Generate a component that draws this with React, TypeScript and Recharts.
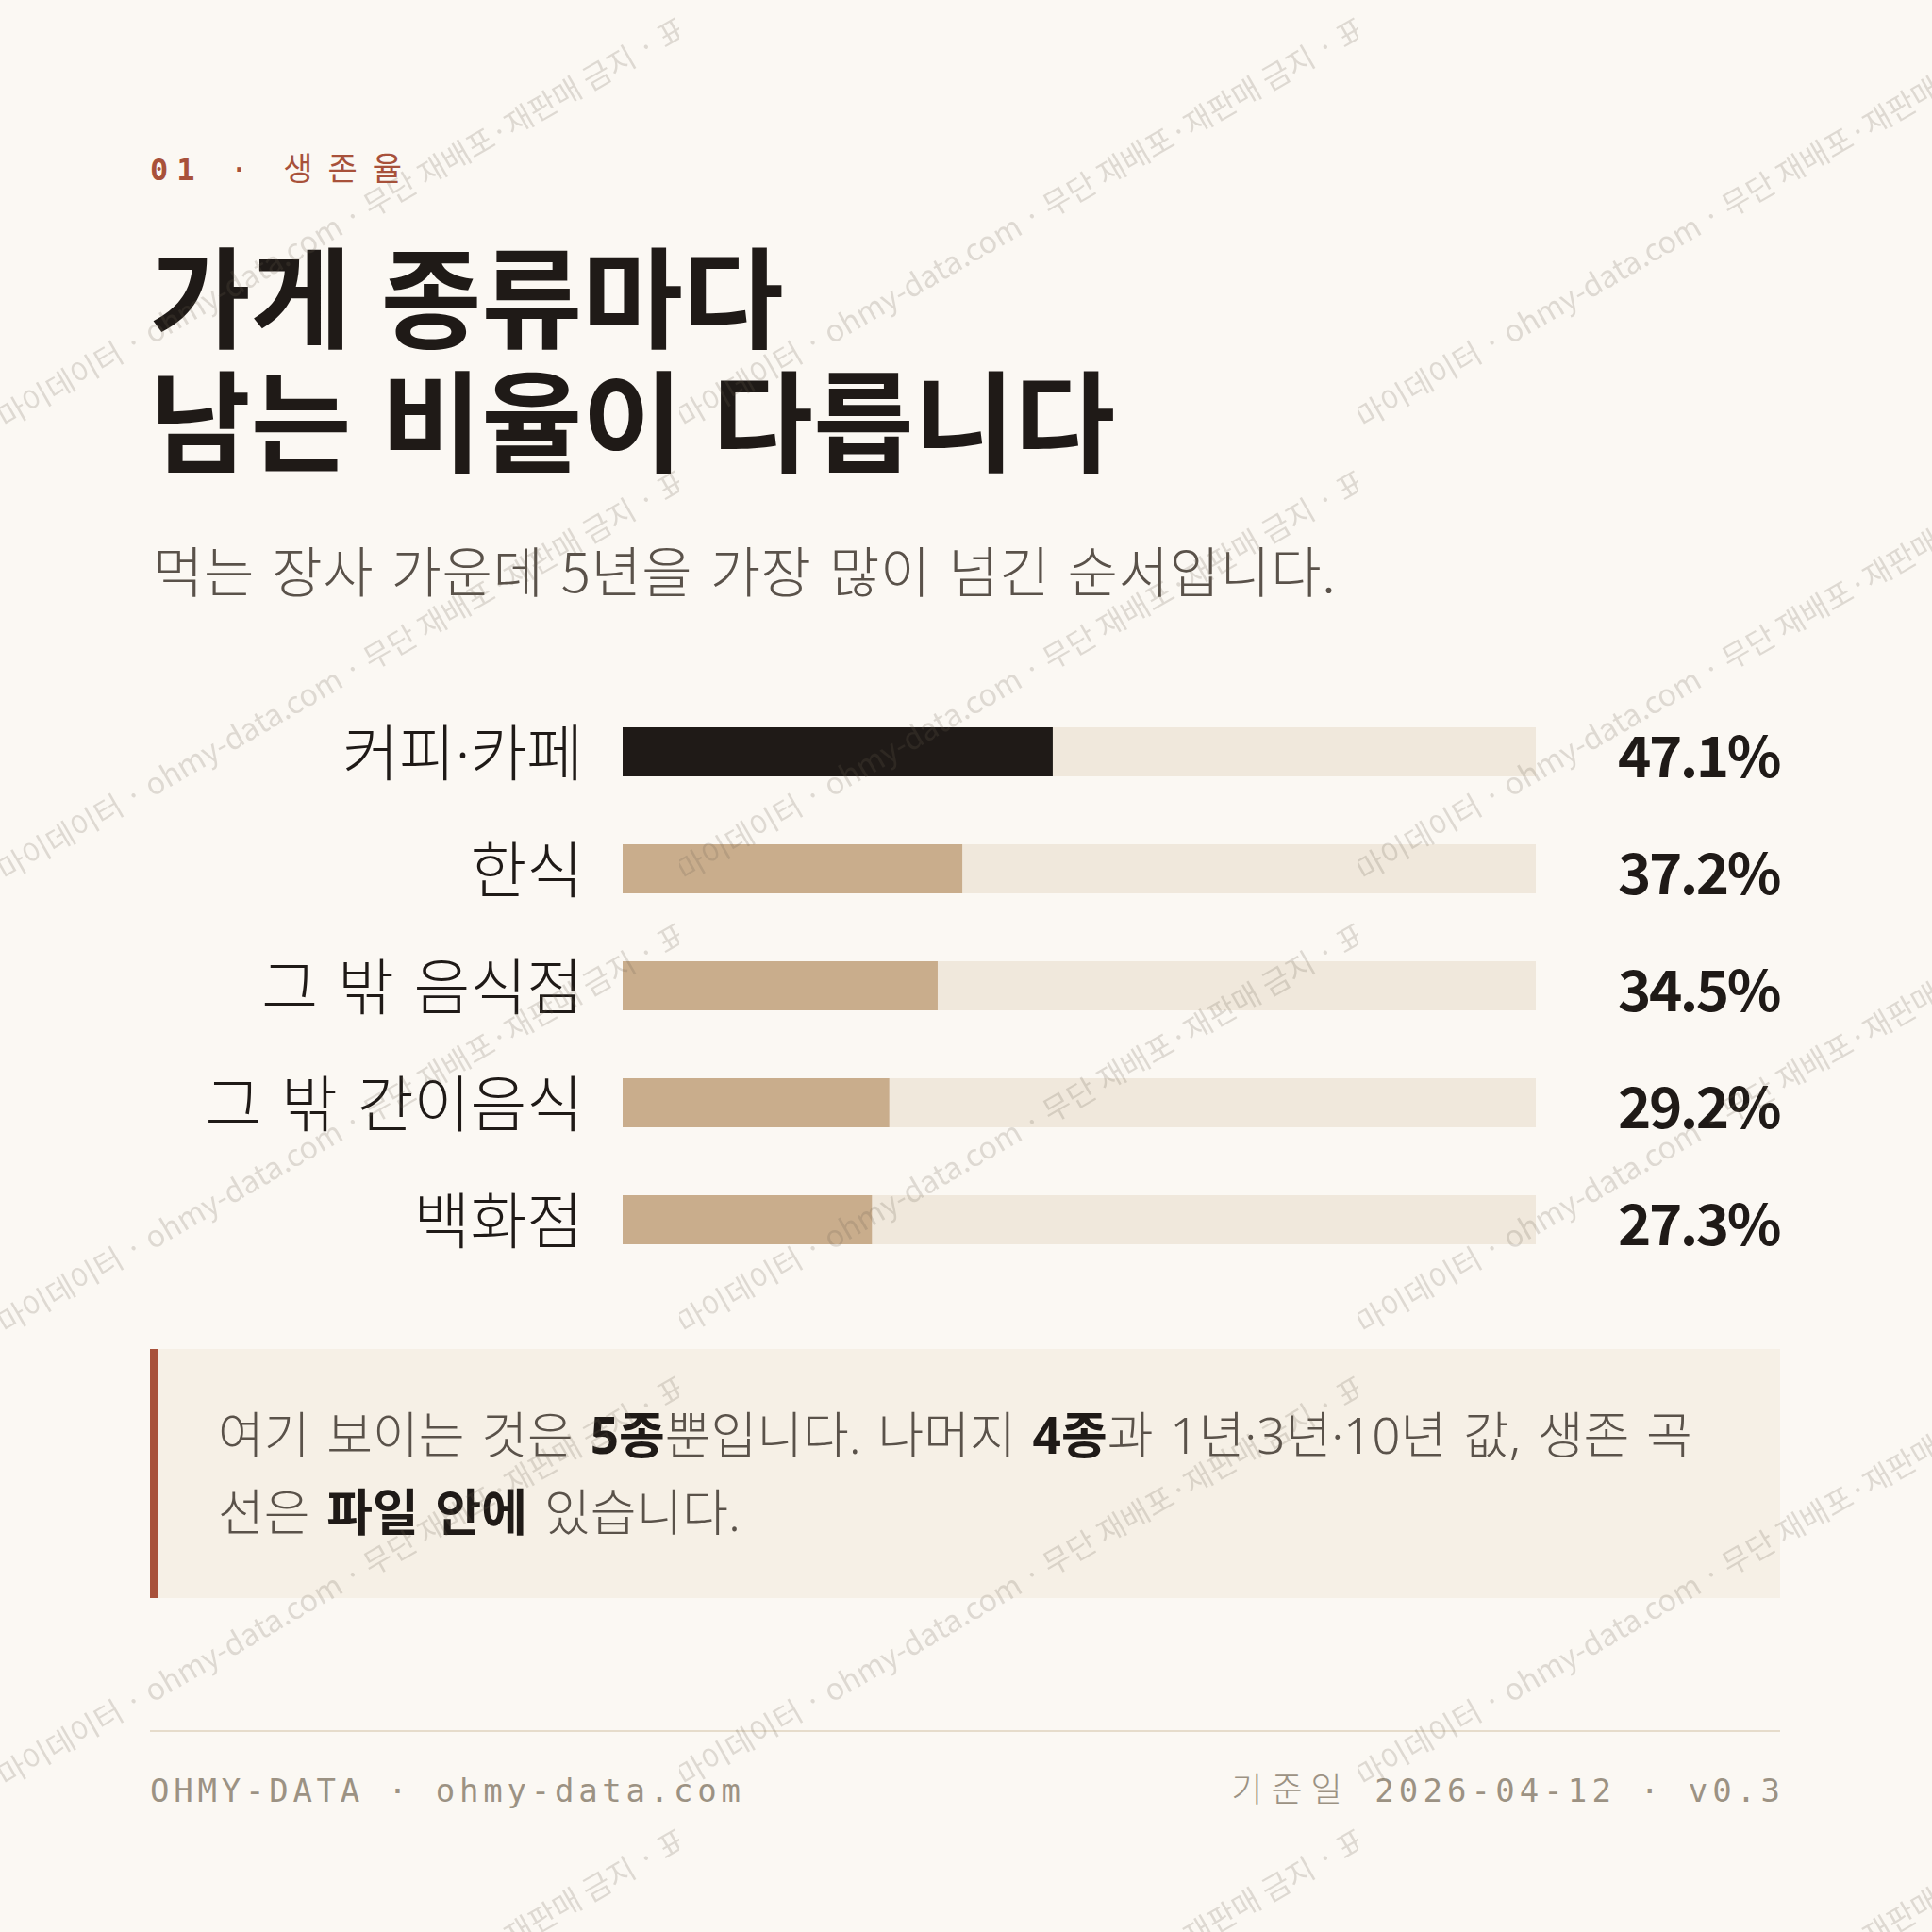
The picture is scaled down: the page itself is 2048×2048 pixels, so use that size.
import { BarChart, Bar, XAxis, YAxis, Cell, LabelList } from 'recharts';

// 5-year survival rate by store type (food business)
const categories = ['커피·카페', '한식', '그 밖 음식점', '그 밖 간이음식', '백화점'];
const survival5y = [47.1, 37.2, 34.5, 29.2, 27.3];
const valueLabels = ['47.1%', '37.2%', '34.5%', '29.2%', '27.3%'];
const highlighted = [true, false, false, false, false];

const X_MAX = 100;

const BG = '#fbf8f3';
const INK = '#1f1a17';
const MUTED = '#5a524a';
const RUST = '#a8513a';
const TAN = '#c9ad8c';
const TRACK = '#f0e8dc';
const FOOT = '#9c9283';

const KR = "'Noto Sans CJK KR', 'Noto Sans', sans-serif";
const KR_LATIN = "'Noto Sans', 'Noto Sans CJK KR', sans-serif";
const MONO = "'DejaVu Sans Mono', 'Noto Sans CJK KR', monospace";

const data = categories.map((name, i) => ({ name, value: survival5y[i] }));

const CHART_W = 1728;
const CHART_H = 620;
const LEFT_AXIS_W = 501;
const RIGHT_GAP = 259;

function CategoryTick(props: any) {
  const { x, y, payload } = props;
  return (
    <text x={x} y={y} textAnchor="end" dominantBaseline="central" fill={INK}
      style={{ fontFamily: KR_LATIN, fontSize: 65, fontWeight: 300, wordSpacing: 4 }}>
      {payload.value}
    </text>
  );
}

function renderValue(props: any) {
  const { x, y, width, height, index } = props;
  // pixel length of the full track, taken from the bar's own scale
  const full = (Number(width) * X_MAX) / survival5y[index];
  return (
    <text x={Number(x) + full + RIGHT_GAP - 1} y={Number(y) + Number(height) / 2}
      textAnchor="end" dominantBaseline="central" fill={INK}
      style={{ fontFamily: KR, fontSize: 60, fontWeight: 700, letterSpacing: -2.5 }}>
      {valueLabels[index]}
    </text>
  );
}

function Watermark() {
  return (
    <svg width={2048} height={2048} style={{ position: 'absolute', left: 0, top: 0, pointerEvents: 'none' }}>
      <defs>
        <pattern id="wm" patternUnits="userSpaceOnUse" width={720} height={480}>
          <text x={6} y={455} transform="rotate(-30 6 455)" fill="#6b5d50" fillOpacity={0.2}
            style={{ fontFamily: KR, fontSize: 32 }}>
            마이데이터 · ohmy-data.com · 무단 재배포·재판매 금지 · 표본 데이터
          </text>
        </pattern>
      </defs>
      <rect x={0} y={0} width={2048} height={2048} fill="url(#wm)" />
    </svg>
  );
}

export default function App() {
  return (
    <div style={{ position: 'absolute', left: 0, top: 0, width: 2048, height: 2048, background: BG, overflow: 'hidden', fontFamily: KR }}>
      {/* kicker */}
      <div style={{ position: 'absolute', left: 159, top: 161, fontFamily: MONO, fontSize: 32, lineHeight: '36px', letterSpacing: '0.28em', color: RUST, whiteSpace: 'nowrap' }}>
        <span style={{ fontWeight: 700 }}>01</span> · <span style={{ fontSize: 34, letterSpacing: 16 }}>생존율</span>
      </div>

      {/* title */}
      <div style={{ position: 'absolute', left: 159, top: 244, fontSize: 116, lineHeight: '131px', fontWeight: 700, color: INK, wordSpacing: 5, whiteSpace: 'nowrap' }}>
        가게 종류마다<br />남는 비율이 다릅니다
      </div>

      {/* subtitle */}
      <div style={{ position: 'absolute', left: 162, top: 567, fontSize: 58, lineHeight: '72px', fontWeight: 300, color: MUTED, letterSpacing: '0.01em', wordSpacing: 5, whiteSpace: 'nowrap' }}>
        먹는 장사 가운데 5년을 가장 많이 넘긴 순서입니다.
      </div>

      {/* chart */}
      <div style={{ position: 'absolute', left: 159, top: 735, width: CHART_W, height: CHART_H }}>
        <BarChart width={CHART_W} height={CHART_H} data={data} layout="vertical"
          margin={{ top: 0, right: RIGHT_GAP, bottom: 0, left: 0 }}>
          <XAxis type="number" domain={[0, X_MAX]} hide />
          <YAxis type="category" dataKey="name" width={LEFT_AXIS_W} axisLine={false} tickLine={false}
            tickSize={0} tickMargin={42} tick={<CategoryTick />} interval={0} />
          <Bar dataKey="value" barSize={52} background={{ fill: TRACK }} isAnimationActive={false}>
            {data.map((_, i) => <Cell key={i} fill={highlighted[i] ? INK : TAN} />)}
            <LabelList dataKey="value" content={renderValue} />
          </Bar>
        </BarChart>
      </div>

      {/* note */}
      <div style={{ position: 'absolute', left: 159, top: 1430, width: 1728, height: 264, boxSizing: 'border-box', background: '#f6f0e6', borderLeft: `8px solid ${RUST}`, paddingTop: 50, paddingLeft: 64, fontFamily: KR_LATIN, fontSize: 53, lineHeight: '82px', fontWeight: 300, color: MUTED, wordSpacing: 4, whiteSpace: 'nowrap' }}>
        여기 보이는 것은 <b style={{ color: INK, fontWeight: 700 }}>5종</b>뿐입니다. 나머지 <b style={{ color: INK, fontWeight: 700 }}>4종</b>과 1년·3년·10년 값, 생존 곡<br />
        선은 <b style={{ color: INK, fontWeight: 700 }}>파일 안에</b> 있습니다.
      </div>

      {/* footer */}
      <div style={{ position: 'absolute', left: 159, top: 1834, width: 1728, height: 2, background: '#e6dccb' }} />
      <div style={{ position: 'absolute', left: 159, top: 1876, fontFamily: MONO, fontSize: 34, lineHeight: '44px', letterSpacing: '0.14em', color: FOOT, whiteSpace: 'nowrap' }}>
        OHMY-DATA · ohmy-data.com
      </div>
      <div style={{ position: 'absolute', right: 156, top: 1876, fontFamily: MONO, fontSize: 34, lineHeight: '44px', letterSpacing: '0.15em', color: FOOT, whiteSpace: 'nowrap', textAlign: 'right' }}>
        <span style={{ fontWeight: 300, fontSize: 36, letterSpacing: 9 }}>기준일</span> 2026-04-12 · v0.3
      </div>

      <Watermark />
    </div>
  );
}
